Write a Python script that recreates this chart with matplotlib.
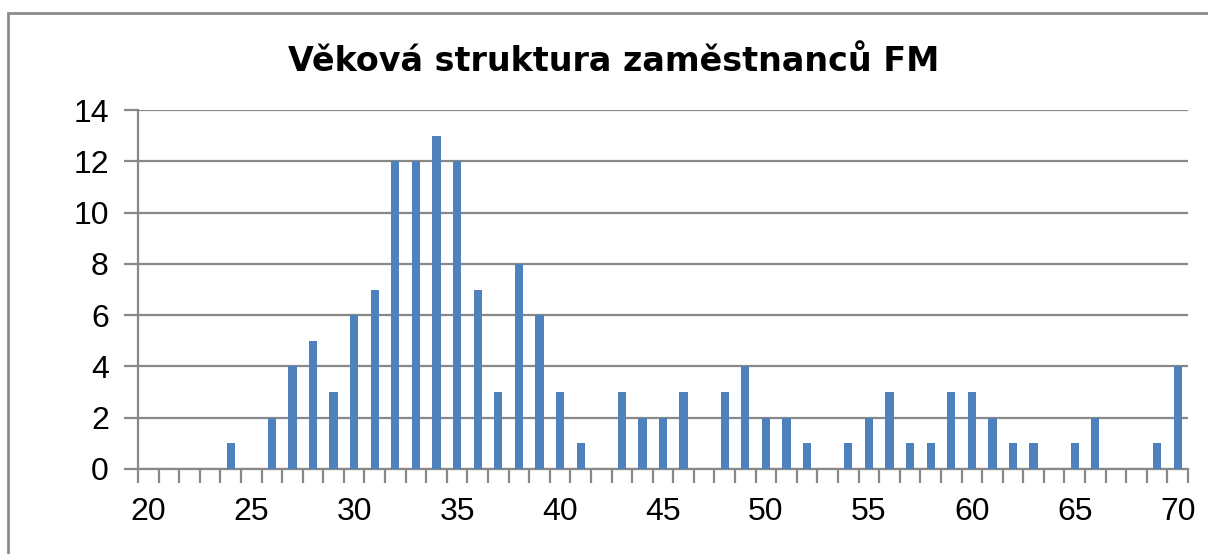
import numpy as np
import matplotlib.pyplot as plt
from matplotlib.patches import Rectangle

# age -> number of employees
ages = np.arange(20, 71)
counts = [0, 0, 0, 0, 1, 0, 2, 4, 5, 3,
          6, 7, 12, 12, 13, 12, 7, 3, 8, 6,
          3, 1, 0, 3, 2, 2, 3, 0, 3, 4,
          2, 2, 1, 0, 1, 2, 3, 1, 1, 3,
          3, 2, 1, 1, 0, 1, 2, 0, 0, 1,
          4]
label_ages = [20, 25, 30, 35, 40, 45, 50, 55, 60, 65, 70]

title = "Věková struktura zaměstnanců FM"

bar_color = "#4F81BD"
grid_color = "#888888"

fig = plt.figure(figsize=(12.08, 5.54), dpi=100)

# chart area border (cut off at right and bottom like the screenshot)
fig.patches.append(Rectangle((8 / 1208, -0.05), 1.2, 0.05 + 1 - 13 / 554,
                             transform=fig.transFigure, fill=False,
                             edgecolor="#8c8c8c", linewidth=2))

ax = fig.add_axes([138 / 1208, 1 - 469 / 554, 1050 / 1208, 359 / 554])

ax.bar(ages, counts, width=0.4, color=bar_color, zorder=3)

ax.set_xlim(19.5, 70.5)
ax.set_ylim(0, 14)
ax.set_yticks(range(0, 15, 2))
ax.yaxis.grid(True, color=grid_color, linewidth=1.6, zorder=0)

ax.set_xticks(label_ages)
ax.set_xticks(np.arange(19.5, 71, 1), minor=True)
ax.tick_params(axis="x", which="major", length=0, pad=20, labelsize=23)
ax.tick_params(axis="x", which="minor", length=10, width=1.6,
               color=grid_color, direction="out")
ax.tick_params(axis="y", length=10, width=1.6, color=grid_color,
               pad=11, labelsize=23)
for lab in ax.get_xticklabels() + ax.get_yticklabels():
    lab.set_family("Liberation Sans")

for s in ["top", "right"]:
    ax.spines[s].set_visible(False)
for s in ["left", "bottom"]:
    ax.spines[s].set_color(grid_color)
    ax.spines[s].set_linewidth(1.6)

fig.text(0.508, 0.889, title, ha="center", va="center",
         fontsize=24, fontweight="bold")

fig.savefig("out.png", dpi=100)
